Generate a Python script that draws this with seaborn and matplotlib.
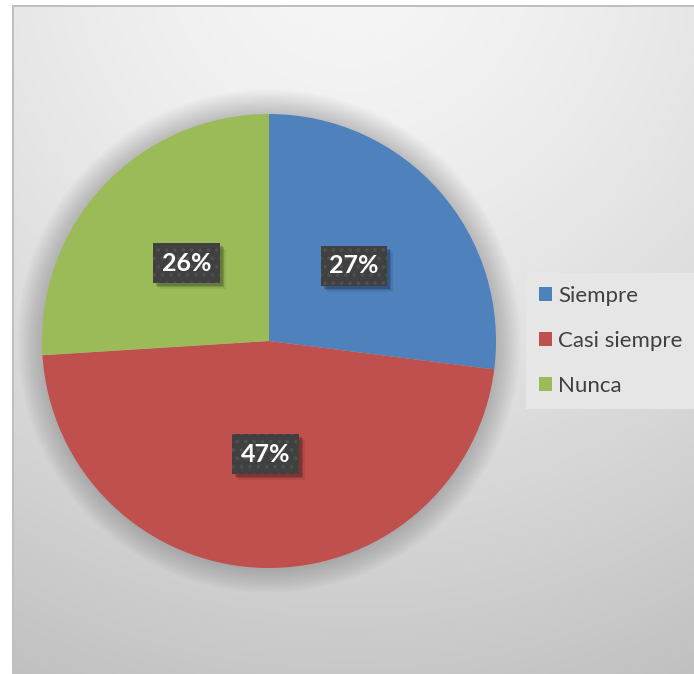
import numpy as np
import matplotlib
matplotlib.use("Agg")
import matplotlib.pyplot as plt
from matplotlib.patches import Patch, Circle, Rectangle
import seaborn as sns

# Survey answers and their shares (percent)
categories = ["Siempre", "Casi siempre", "Nunca"]
shares = [27, 47, 26]
colors = ["#4F81BD", "#C0504D", "#9BBB59"]

sns.set_theme(style="white")
plt.rcParams["font.family"] = ["Lato", "DejaVu Sans"]
plt.rcParams["hatch.linewidth"] = 1.5

W, H = 694, 674
fig = plt.figure(figsize=(W / 100, H / 100), dpi=100)
fig.patch.set_facecolor("white")

# Chart-area background: soft radial grey gradient inside a thin frame
bg = fig.add_axes([0, 0, 1, 1], zorder=0)
yy, xx = np.mgrid[0:H, 0:W]
dist = np.hypot(xx - 350, yy + 50)
val = 246 - 50 * (dist / 760) ** 1.5
val = np.clip(val, 180, 255) / 255.0
img = np.dstack([val, val, val])
img[:, :12] = 1.0
img[:5, :] = 1.0
img[5:, 12:14] = 0.75
img[5:7, 12:] = 0.75
bg.imshow(img, extent=(0, W, H, 0), aspect="auto", interpolation="nearest")
bg.set_xlim(0, W)
bg.set_ylim(H, 0)
bg.axis("off")

# Pie area
cx, cy, r = 269, 341, 227
ax = fig.add_axes([(cx - r) / W, (H - cy - r) / H, 2 * r / W, 2 * r / H], zorder=1)
ax.set_facecolor("none")

# soft glow around the pie
for k in range(12):
    rad = 1.0 + 0.009 * (k + 1)
    ax.add_patch(Circle((0, 0), rad, facecolor="black", edgecolor="none",
                        alpha=0.014, zorder=0, clip_on=False))

wedges, texts, autotexts = ax.pie(
    shares, colors=colors, startangle=90, counterclock=False,
    autopct=lambda p: f"{p:.0f}%", pctdistance=0.5,
    wedgeprops=dict(linewidth=0),
)
for w in wedges:
    w.set_zorder(2)

for t in autotexts:
    t.set_color("white")
    t.set_fontsize(18)
    t.set_fontweight("bold")
    t.set_zorder(5)
    t.set_bbox(dict(boxstyle="square,pad=0.34", facecolor="#404040",
                    edgecolor="#4f4f4f", linewidth=0, hatch=".."))

ax.set_xlim(-1, 1)
ax.set_ylim(-1, 1)
ax.set_aspect("equal")
ax.axis("off")

# drop shadows under the value boxes
fig.canvas.draw()
renderer = fig.canvas.get_renderer()
inv = ax.transData.inverted()
for t in autotexts:
    bb = t.get_bbox_patch().get_window_extent(renderer)
    for off, a in [(3, 0.16), (4, 0.14), (6, 0.07)]:
        (x0, y0), (x1, y1) = inv.transform([(bb.x0 + off, bb.y0 - off),
                                            (bb.x1 + off, bb.y1 - off)])
        ax.add_patch(Rectangle((x0, y0), x1 - x0, y1 - y0, facecolor="black",
                               edgecolor="none", alpha=a, zorder=4))

handles = [Patch(facecolor=c, edgecolor="none", label=l) for c, l in zip(colors, categories)]
leg = fig.legend(handles=handles, loc="center left",
                 bbox_to_anchor=(526 / W, 1 - 341 / H), frameon=True,
                 fontsize=16, labelspacing=1.12, handlelength=0.58,
                 handleheight=0.58, handletextpad=0.28, borderpad=0.6,
                 borderaxespad=0, fancybox=False)
leg.set_zorder(3)
leg.get_frame().set_facecolor("#e6e6e6")
leg.get_frame().set_edgecolor("none")
leg.get_frame().set_alpha(1)
for txt in leg.get_texts():
    txt.set_color("#404040")

fig.savefig("out.png", dpi=100)
